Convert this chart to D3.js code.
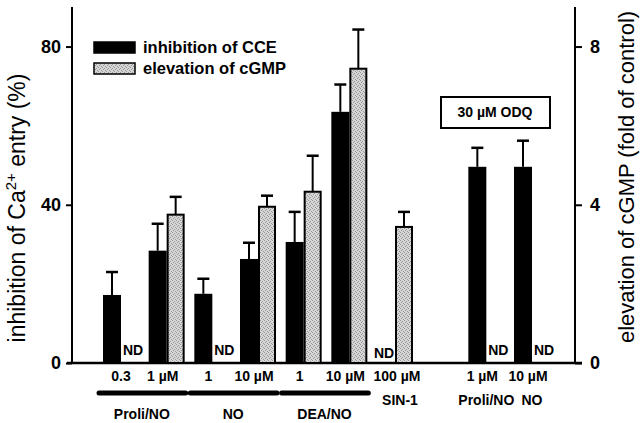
<!DOCTYPE html>
<html>
<head>
<meta charset="utf-8">
<script src="https://cdn.jsdelivr.net/npm/d3@7"></script>
<style>
  body { margin: 0; background: #fff; }
  #vis { width: 640px; height: 423px; }
  text { font-family: "Liberation Sans", Arial, sans-serif; }
</style>
</head>
<body>
<div id="vis"></div>
<script>
// slots along the x axis (one empty slot before the ODQ part)
var slots = ['p03', 'p1', 'n1', 'n10', 'd1', 'd10', 'sin', 'gap', 'q1', 'q10'];
var dose_labels = ['0.3', '1 \u00b5M', '1', '10 \u00b5M', '1', '10 \u00b5M', '100 \u00b5M', '', '1 \u00b5M', '10 \u00b5M'];

// inhibition of CCE (%), with error (SEM)
var inhibition = [17.2, 28.4, 17.5, 26.3, 30.6, 63.5, null, null, 49.6, 49.6];
var inhibition_err = [5.8, 6.8, 3.8, 4.1, 7.6, 6.9, null, null, 4.8, 6.6];

// elevation of cGMP (fold of control), with error
var cgmp = [null, 3.75, null, 3.95, 4.33, 7.44, 3.44, null, null, null];
var cgmp_err = [null, 0.45, null, 0.28, 0.91, 0.99, 0.38, null, null, null];

// where a value was not determined
var nd_black = ['sin'];
var nd_grey = ['p03', 'n1', 'q1', 'q10'];

// groups drawn as thick bars under the doses
var groups = [
  {name: 'Proli/NO', from: 'p03', to: 'p1'},
  {name: 'NO', from: 'n1', to: 'n10'},
  {name: 'DEA/NO', from: 'd1', to: 'd10'}
];
var single_labels = [
  {name: 'SIN-1', at: 'sin'},
  {name: 'Proli/NO', at: 'q1'},
  {name: 'NO', at: 'q10'}
];

var left_ticks = [0, 40, 80];
var right_ticks = [0, 4, 8];

var width = 640, height = 423;
var svg = d3.select('#vis').append('svg')
    .attr('width', width)
    .attr('height', height);

// stipple for the grey bars
var pat = svg.append('defs').append('pattern')
    .attr('id', 'stipple')
    .attr('patternUnits', 'userSpaceOnUse')
    .attr('width', 4).attr('height', 4);
pat.append('rect').attr('width', 4).attr('height', 4).attr('fill', '#d6d6d6');
[[0, 0], [2, 1], [1, 2], [3, 3]].forEach(function(p) {
  pat.append('rect').attr('x', p[0]).attr('y', p[1]).attr('width', 1).attr('height', 1).attr('fill', '#979797');
});

var x0 = 72, x1 = 575, y0 = 363, ytop = 7;
var barW = 18;

var x_scale = d3.scalePoint().domain(slots).range([121, 532]);
var y_left = d3.scaleLinear().domain([0, 90]).range([y0, ytop]);
var y_right = d3.scaleLinear().domain([0, 9]).range([y0, ytop]);

// axes
var yl = svg.append('g')
    .attr('transform', 'translate(' + x0 + ',0)')
    .call(d3.axisLeft(y_left).tickValues(left_ticks).tickSize(6).tickPadding(5));
var yr = svg.append('g')
    .attr('transform', 'translate(' + x1 + ',0)')
    .call(d3.axisRight(y_right).tickValues(right_ticks).tickSize(7).tickPadding(8));
[yl, yr].forEach(function(g) {
  g.select('.domain').attr('d', 'M0,' + y0 + 'V' + ytop).attr('stroke-width', 2);
  g.selectAll('.tick line').attr('stroke-width', 2);
  g.selectAll('.tick text')
      .style('font-family', '"Liberation Sans", Arial, sans-serif')
      .style('font-size', '18px')
      .style('font-weight', 'bold')
      .attr('fill', '#000');
});

// baseline
svg.append('line')
    .attr('x1', 67).attr('x2', 582)
    .attr('y1', y0).attr('y2', y0)
    .attr('stroke', '#000').attr('stroke-width', 2.5);

var black = slots.map(function(s, i) {
  return {slot: s, v: inhibition[i], e: inhibition_err[i]};
}).filter(function(d) { return d.v != null; });

var grey = slots.map(function(s, i) {
  return {slot: s, v: cgmp[i], e: cgmp_err[i]};
}).filter(function(d) { return d.v != null; });

function errorBar(sel, data, xpos, yscale) {
  var g = sel.selectAll(null).data(data).enter().append('g');
  g.append('line')
      .attr('x1', xpos).attr('x2', xpos)
      .attr('y1', function(d) { return yscale(d.v); })
      .attr('y2', function(d) { return yscale(d.v + d.e); })
      .attr('stroke', '#000').attr('stroke-width', 2);
  g.append('line')
      .attr('x1', function(d) { return xpos(d) - 6; })
      .attr('x2', function(d) { return xpos(d) + 6; })
      .attr('y1', function(d) { return yscale(d.v + d.e); })
      .attr('y2', function(d) { return yscale(d.v + d.e); })
      .attr('stroke', '#000').attr('stroke-width', 2.5);
}

errorBar(svg, black, function(d) { return x_scale(d.slot) - barW / 2; }, y_left);
errorBar(svg, grey, function(d) { return x_scale(d.slot) + barW / 2; }, y_right);

svg.selectAll('.bar-black').data(black).enter().append('rect')
    .attr('class', 'bar-black')
    .attr('x', function(d) { return x_scale(d.slot) - barW; })
    .attr('width', barW)
    .attr('y', function(d) { return y_left(d.v); })
    .attr('height', function(d) { return y0 - y_left(d.v); })
    .attr('fill', '#000');

svg.selectAll('.bar-grey').data(grey).enter().append('rect')
    .attr('class', 'bar-grey')
    .attr('x', function(d) { return x_scale(d.slot) + 1; })
    .attr('width', barW - 2)
    .attr('y', function(d) { return y_right(d.v); })
    .attr('height', function(d) { return y0 - y_right(d.v); })
    .attr('fill', 'url(#stipple)')
    .attr('stroke', '#000').attr('stroke-width', 2);

// ND labels
svg.selectAll('.nd-b').data(nd_black).enter().append('text')
    .attr('x', function(d) { return x_scale(d) - barW / 2 - 2; })
    .attr('y', 358)
    .attr('text-anchor', 'middle')
    .style('font-size', '14px').style('font-weight', 'bold')
    .text('ND');
svg.selectAll('.nd-g').data(nd_grey).enter().append('text')
    .attr('x', function(d) { return x_scale(d) + barW / 2 + 3; })
    .attr('y', 355)
    .attr('text-anchor', 'middle')
    .style('font-size', '14px').style('font-weight', 'bold')
    .text('ND');

// dose labels
svg.selectAll('.dose').data(slots).enter().append('text')
    .attr('x', function(d, i) { return x_scale(d) + (i == 0 ? 0 : d == 'sin' ? 2 : -4); })
    .attr('y', 381)
    .attr('text-anchor', 'middle')
    .style('font-size', '14px').style('font-weight', 'bold')
    .text(function(d, i) { return dose_labels[i]; });

// group bars
svg.selectAll('.grp').data(groups).enter().append('line')
    .attr('x1', function(d) { return x_scale(d.from) - 22; })
    .attr('x2', function(d) { return x_scale(d.to) + 19; })
    .attr('y1', 393).attr('y2', 393)
    .attr('stroke', '#000').attr('stroke-width', 5)
    .attr('stroke-linecap', 'round');
svg.selectAll('.grp-t').data(groups).enter().append('text')
    .attr('x', function(d) { return (x_scale(d.from) + x_scale(d.to)) / 2 - 2; })
    .attr('y', 419)
    .attr('text-anchor', 'middle')
    .style('font-size', '14px').style('font-weight', 'bold')
    .text(function(d) { return d.name; });
svg.selectAll('.single-t').data(single_labels).enter().append('text')
    .attr('x', function(d) { return x_scale(d.at) + (d.at == 'sin' ? 5 : 0); })
    .attr('y', 405)
    .attr('text-anchor', 'middle')
    .style('font-size', '14px').style('font-weight', 'bold')
    .text(function(d) { return d.name; });

// ODQ box
svg.append('rect')
    .attr('x', 441).attr('y', 97)
    .attr('width', 109).attr('height', 31)
    .attr('fill', '#fff').attr('stroke', '#000').attr('stroke-width', 2);
svg.append('text')
    .attr('x', 495).attr('y', 117)
    .attr('text-anchor', 'middle')
    .style('font-size', '14px').style('font-weight', 'bold')
    .text('30 \u00b5M ODQ');

// legend
var legend = [
  {name: 'inhibition of CCE', fill: '#000'},
  {name: 'elevation of cGMP', fill: 'url(#stipple)'}
];
var lg = svg.selectAll('.lg').data(legend).enter().append('g')
    .attr('transform', function(d, i) { return 'translate(94,' + (42 + i * 21) + ')'; });
lg.append('rect')
    .attr('width', 41).attr('height', 11)
    .attr('fill', function(d) { return d.fill; })
    .attr('stroke', '#000').attr('stroke-width', 1.5);
lg.append('text')
    .attr('x', 49).attr('y', 11)
    .style('font-size', '16.5px').style('font-weight', 'bold')
    .text(function(d) { return d.name; });

// axis titles
var lt = svg.append('text')
    .attr('transform', 'translate(25,208) rotate(-90)')
    .attr('text-anchor', 'middle')
    .style('font-size', '23px');
lt.append('tspan').text('inhibition of Ca');
lt.append('tspan').attr('dy', -9).style('font-size', '15px').text('2+');
lt.append('tspan').attr('dy', 9).text(' entry (%)');

svg.append('text')
    .attr('transform', 'translate(634,177) rotate(-90)')
    .attr('text-anchor', 'middle')
    .style('font-size', '22px')
    .text('elevation of cGMP (fold of control)');
</script>
</body>
</html>
